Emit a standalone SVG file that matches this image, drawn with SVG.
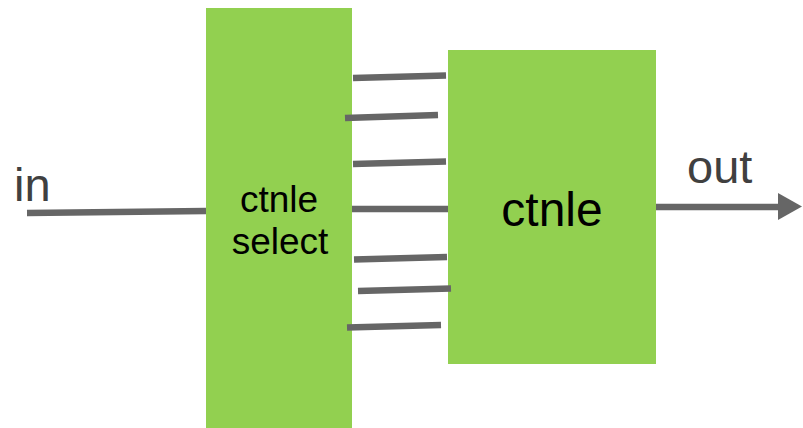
<svg xmlns="http://www.w3.org/2000/svg" width="803" height="428" viewBox="0 0 803 428">
  <style>
    .block { fill: #92D050; }
    .wire { stroke: #666666; stroke-width: 6.5; fill: none; }
    .lbl { font-family: "Liberation Sans", Arial, sans-serif; fill: #000000; text-anchor: middle; }
    .port { font-family: "Liberation Sans", Arial, sans-serif; fill: #404040; }
  </style>
  <rect width="803" height="428" fill="#FFFFFF"/>

  <g id="ctnle-select">
    <rect class="block" x="206" y="8" width="146" height="420"/>
    <text class="lbl" x="279" y="211.5" font-size="37">ctnle</text>
    <text class="lbl" x="280" y="253.5" font-size="37">select</text>
  </g>

  <g id="ctnle">
    <rect class="block" x="448" y="50" width="208" height="314"/>
    <text class="lbl" x="552" y="226" font-size="48">ctnle</text>
  </g>

  <g id="connectors">
    <!-- input wire -->
    <line class="wire" x1="27" y1="213" x2="206" y2="211"/>
    <!-- select bus between the two blocks -->
    <line class="wire" x1="353" y1="78" x2="446" y2="75.5"/>
    <line class="wire" x1="345" y1="118" x2="438" y2="115"/>
    <line class="wire" x1="353" y1="164" x2="446" y2="161.5"/>
    <line class="wire" x1="352" y1="209" x2="448" y2="209"/>
    <line class="wire" x1="354" y1="259.5" x2="447" y2="257"/>
    <line class="wire" x1="358" y1="291" x2="451" y2="288.5"/>
    <line class="wire" x1="347" y1="327.5" x2="441" y2="325"/>
    <!-- output wire with arrowhead -->
    <line class="wire" x1="656" y1="207" x2="780" y2="207"/>
    <polygon points="778,193 802,206.5 778,220" fill="#666666"/>
  </g>

  <text class="port" x="14" y="201" font-size="47">in</text>
  <text class="port" x="687" y="183" font-size="47">out</text>
</svg>
